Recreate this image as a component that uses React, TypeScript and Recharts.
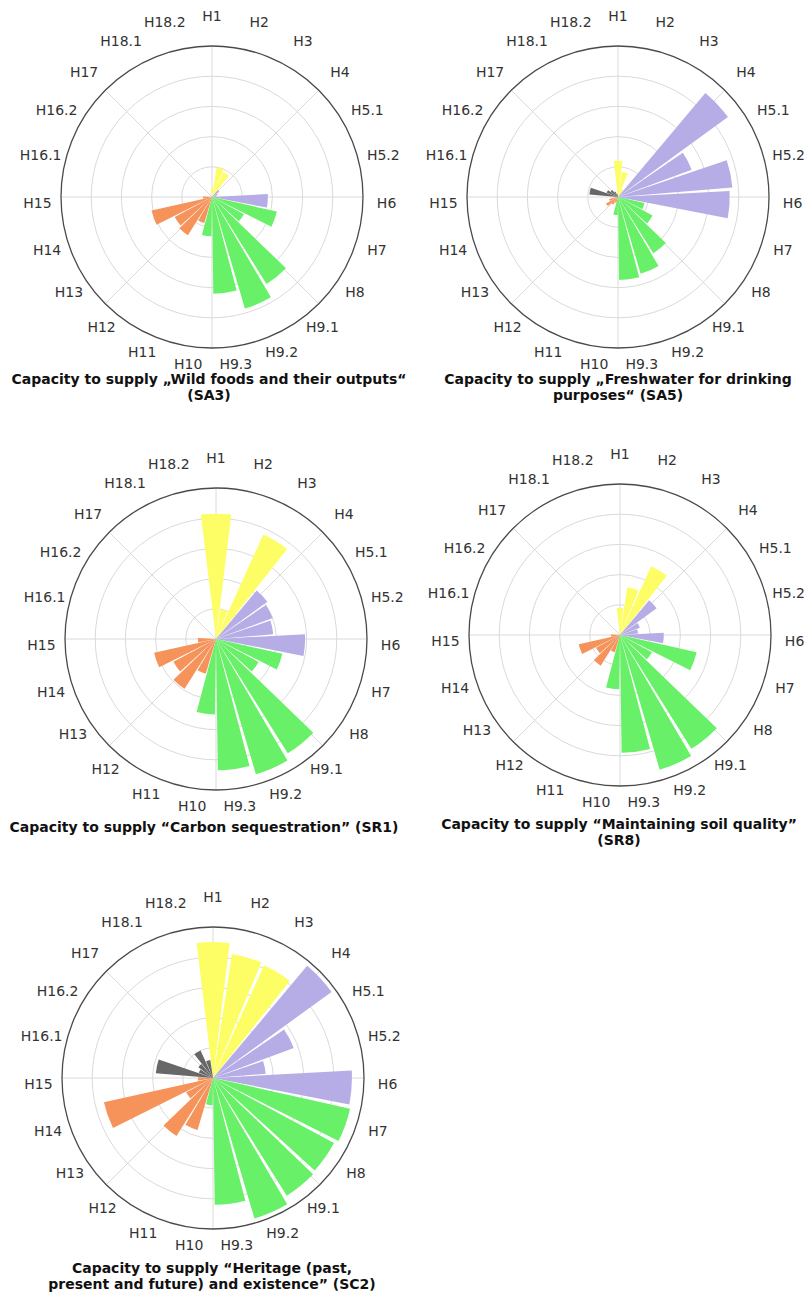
import React from "react";
import {
  RadialBarChart,
  RadialBar,
  PolarAngleAxis,
  PolarRadiusAxis,
  PolarGrid,
  Cell,
} from "recharts";

const CATEGORIES = [
  "H1", "H2", "H3", "H4", "H5.1", "H5.2", "H6", "H7", "H8", "H9.1", "H9.2", "H9.3",
  "H10", "H11", "H12", "H13", "H14", "H15", "H16.1", "H16.2", "H17", "H18.1", "H18.2",
];

const YELLOW = "#fdfd66";
const LAVENDER = "#b6ace6";
const GREEN = "#68f068";
const ORANGE = "#f5935a";
const GRAY = "#686868";

// one colour per habitat, same order as CATEGORIES
const CATEGORY_COLORS = [
  YELLOW, YELLOW, YELLOW,
  LAVENDER, LAVENDER, LAVENDER, LAVENDER,
  GREEN, GREEN, GREEN, GREEN, GREEN, GREEN,
  ORANGE, ORANGE, ORANGE, ORANGE, ORANGE,
  GRAY, GRAY, GRAY, GRAY, GRAY,
];

const SA3 = [0.3, 1.0, 0.9, 0.3, 0.2, 0.15, 1.85, 2.2, 1.2, 3.4, 3.85, 3.2, 1.3, 0.9, 1.5, 1.4, 2.05, 0.3, 0, 0, 0, 0, 0];
const SA5 = [1.2, 0.85, 0.3, 4.5, 2.6, 3.8, 3.7, 0.9, 1.3, 2.2, 2.65, 2.75, 0.6, 0.2, 0.3, 0.45, 0.3, 0.1, 0.95, 0.4, 0.3, 0.2, 0.1];
const SR1 = [4.15, 1.0, 3.8, 2.1, 2.0, 1.9, 2.95, 2.25, 1.6, 4.47, 4.67, 4.35, 2.5, 1.2, 1.95, 1.6, 2.1, 0.6, 0, 0, 0, 0, 0];
const SR8 = [0.9, 1.6, 2.5, 1.5, 0.7, 0.6, 1.45, 2.6, 1.2, 4.45, 4.65, 3.9, 1.8, 0.6, 1.2, 0.9, 1.4, 0.3, 0, 0, 0, 0, 0];
const SC2 = [4.5, 4.15, 4.1, 4.85, 2.85, 1.75, 4.6, 4.65, 4.55, 4.6, 4.85, 4.2, 0.9, 1.8, 2.27, 1.0, 3.7, 0.5, 1.9, 0.5, 0.6, 1.0, 0.6];

const RING_VALUES = [1, 2, 3, 4];
const MAX_VALUE = 5;

const TITLE_SA3 = ["Capacity to supply \u201EWild foods and their outputs\u201C", "(SA3)"];
const TITLE_SA5 = ["Capacity to supply \u201EFreshwater for drinking", "purposes\u201C (SA5)"];
const TITLE_SR1 = ["Capacity to supply \u201CCarbon sequestration\u201D (SR1)"];
const TITLE_SR8 = ["Capacity to supply \u201CMaintaining soil quality\u201D", "(SR8)"];
const TITLE_SC2 = ["Capacity to supply \u201CHeritage (past,", "present and future) and existence\u201D (SC2)"];

const STEP = 360 / CATEGORIES.length;
// recharts puts the first band one step early on a full circle, so start half a step past the top
const START_ANGLE = 90 - STEP / 2;
const OUTER_R = 151;
const LABEL_R = 175;
const SPOKES = [90, 45, 0, -45, -90, -135, 180, 135];
const PAGE_W = 806;

function AngleTick(props: any) {
  const { payload, cx, cy, left } = props;
  const i = CATEGORIES.indexOf(payload.value);
  const a = (i * STEP * Math.PI) / 180;
  let x = cx + LABEL_R * Math.sin(a);
  const y = cy - LABEL_R * Math.cos(a) - 6;
  let anchor = "middle";
  // keep labels at the right page edge inside the picture
  const halfW = String(payload.value).length * 4.3;
  if (left + x + halfW > PAGE_W - 1) {
    x = PAGE_W - 1 - left;
    anchor = "end";
  }
  return (
    <text
      x={x}
      y={y}
      textAnchor={anchor}
      dominantBaseline="central"
      fontFamily="DejaVu Sans"
      fontSize={14}
      fill="#333"
    >
      {payload.value}
    </text>
  );
}

function RoseChart({
  values,
  left,
  top,
  cx,
  cy,
}: {
  values: number[];
  left: number;
  top: number;
  cx: number;
  cy: number;
}) {
  const data = CATEGORIES.map((name, i) => ({ name, value: values[i] }));
  return (
    <div style={{ position: "absolute", left, top }}>
      <RadialBarChart
        width={403}
        height={400}
        cx={cx}
        cy={cy}
        data={data}
        layout="centric"
        startAngle={START_ANGLE}
        endAngle={START_ANGLE - 360}
        innerRadius={0}
        outerRadius={OUTER_R}
        barCategoryGap="5%"
        style={{ overflow: "visible" }}
      >
        <PolarGrid
          gridType="circle"
          polarAngles={SPOKES}
          polarRadius={RING_VALUES.map((v) => (v / MAX_VALUE) * OUTER_R)}
          stroke="#dadada"
        />
        <PolarAngleAxis
          type="category"
          dataKey="name"
          axisLineType="circle"
          axisLine={{ stroke: "#4a4a4a", strokeWidth: 1.3 }}
          tickLine={false}
          tick={(p: any) => <AngleTick {...p} cx={cx} cy={cy} left={left} />}
        />
        <PolarRadiusAxis type="number" domain={[0, MAX_VALUE]} tick={false} axisLine={false} />
        <RadialBar dataKey="value" isAnimationActive={false}>
          {data.map((d, i) => (
            <Cell key={d.name} fill={CATEGORY_COLORS[i]} />
          ))}
        </RadialBar>
      </RadialBarChart>
    </div>
  );
}

function Title({ lines, x, y }: { lines: string[]; x: number; y: number }) {
  return (
    <text
      textAnchor="middle"
      fontFamily="DejaVu Sans"
      fontWeight="bold"
      fontSize={14}
      fill="#111"
    >
      {lines.map((line, i) => (
        <tspan key={i} x={x} y={y + i * 16}>
          {line}
        </tspan>
      ))}
    </text>
  );
}

export default function App() {
  return (
    <div
      style={{
        position: "absolute",
        left: 0,
        top: 0,
        width: PAGE_W,
        height: 1296,
        background: "#fff",
        overflow: "hidden",
      }}
    >
      <RoseChart values={SA3} left={0} top={0} cx={212} cy={197} />
      <RoseChart values={SA5} left={403} top={0} cx={215} cy={197} />
      <RoseChart values={SR1} left={0} top={440} cx={216} cy={199} />
      <RoseChart values={SR8} left={403} top={440} cx={217} cy={195} />
      <RoseChart values={SC2} left={0} top={878} cx={213} cy={200} />
      <svg
        width={PAGE_W}
        height={1296}
        style={{ position: "absolute", left: 0, top: 0, pointerEvents: "none" }}
      >
        <Title lines={TITLE_SA3} x={209} y={384} />
        <Title lines={TITLE_SA5} x={618} y={384} />
        <Title lines={TITLE_SR1} x={204} y={832} />
        <Title lines={TITLE_SR8} x={619} y={829} />
        <Title lines={TITLE_SC2} x={212} y={1273} />
      </svg>
    </div>
  );
}
